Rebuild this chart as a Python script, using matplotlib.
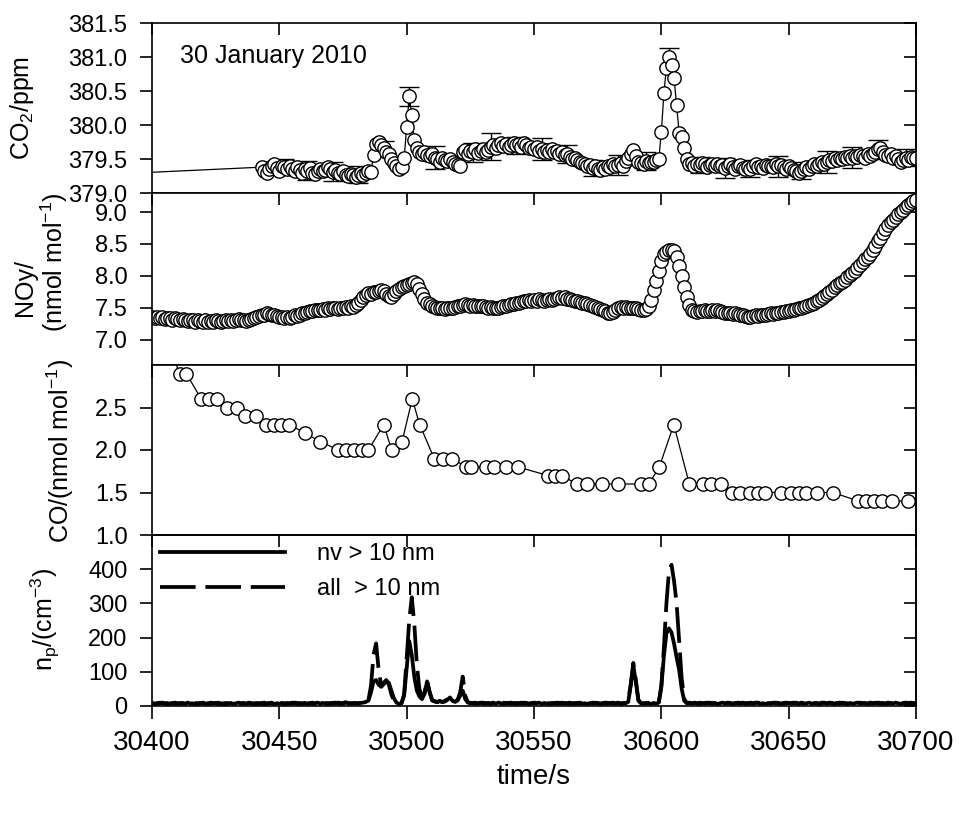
import numpy as np
import matplotlib
matplotlib.use('Agg')
import matplotlib.pyplot as plt
import matplotlib.ticker as ticker

plt.rcParams['font.family'] = ['Liberation Sans', 'DejaVu Sans']
plt.rcParams['mathtext.fontset'] = 'custom'
plt.rcParams['mathtext.rm'] = 'Liberation Sans'
plt.rcParams['mathtext.it'] = 'Liberation Sans:italic'
plt.rcParams['mathtext.default'] = 'regular'

# ---- data ----
time_ticks = [30400, 30450, 30500, 30550, 30600, 30650, 30700]

# CO2 (ppm), 1 s steps from 30443 s; one earlier sample lies left of the frame
co2_lead_t = [30380]
co2_lead = [379.27]
co2_start = 30443
co2 = [
    379.38, 379.33, 379.30, 379.36, 379.40, 379.42, 379.37, 379.33, 379.40, 379.38,
    379.36, 379.40, 379.35, 379.32, 379.38, 379.34, 379.30, 379.35, 379.33, 379.37,
    379.30, 379.28, 379.33, 379.36, 379.32, 379.34, 379.38, 379.35, 379.31, 379.34,
    379.30, 379.28, 379.32, 379.27, 379.25, 379.28, 379.26, 379.24, 379.27, 379.29,
    379.26, 379.30, 379.33, 379.31, 379.56, 379.72, 379.75, 379.70, 379.66, 379.60,
    379.58, 379.50, 379.44, 379.40, 379.36, 379.38, 379.51, 379.97, 380.42, 380.15,
    379.78, 379.66, 379.61, 379.58, 379.60, 379.56, 379.55, 379.57, 379.52, 379.50,
    379.46, 379.52, 379.49, 379.47, 379.50, 379.45, 379.43, 379.41, 379.39, 379.61,
    379.63, 379.58, 379.62, 379.60, 379.64, 379.59, 379.62, 379.65, 379.60, 379.63,
    379.68, 379.71, 379.66, 379.70, 379.73, 379.69, 379.72, 379.68, 379.71, 379.74,
    379.70, 379.72, 379.68, 379.73, 379.70, 379.66, 379.68, 379.64, 379.67, 379.62,
    379.65, 379.60, 379.63, 379.61, 379.64, 379.60, 379.62, 379.58, 379.60, 379.56,
    379.57, 379.53, 379.50, 379.52, 379.48, 379.46, 379.44, 379.42, 379.39, 379.41,
    379.37, 379.40, 379.35, 379.34, 379.38, 379.36, 379.40, 379.38, 379.42, 379.40,
    379.41, 379.44, 379.40, 379.47, 379.52, 379.58, 379.63, 379.55, 379.46, 379.44,
    379.42, 379.47, 379.44, 379.46, 379.45, 379.48, 379.50, 379.89, 380.47, 380.84,
    381.00, 380.88, 380.69, 380.29, 379.88, 379.83, 379.66, 379.50, 379.42, 379.44,
    379.40, 379.43, 379.41, 379.44, 379.42, 379.38, 379.41, 379.43, 379.40, 379.42,
    379.39, 379.41, 379.37, 379.40, 379.42, 379.38, 379.36, 379.39, 379.41, 379.37,
    379.35, 379.38, 379.36, 379.39, 379.42, 379.38, 379.40, 379.37, 379.41, 379.39,
    379.40, 379.38, 379.42, 379.39, 379.41, 379.38, 379.36, 379.40, 379.37, 379.34,
    379.32, 379.30, 379.33, 379.35, 379.38, 379.36, 379.40, 379.42, 379.39, 379.43,
    379.45, 379.42, 379.46, 379.49, 379.47, 379.51, 379.48, 379.52, 379.50, 379.53,
    379.51, 379.54, 379.52, 379.55, 379.53, 379.56, 379.54, 379.52, 379.57, 379.55,
    379.58, 379.60, 379.64, 379.66, 379.60, 379.56, 379.54, 379.58, 379.52, 379.55,
    379.50, 379.46, 379.48, 379.52, 379.49, 379.53, 379.51, 379.52,
]
co2_err_t = [30452, 30461, 30471, 30481, 30491, 30501, 30511, 30526, 30533, 30543,
             30553, 30563, 30573, 30583, 30594, 30603, 30615, 30625, 30635, 30646,
             30655, 30665, 30675, 30685, 30696]
co2_err = [0.12, 0.14, 0.14, 0.13, 0.10, 0.14, 0.17, 0.14, 0.20, 0.12,
           0.16, 0.13, 0.12, 0.15, 0.13, 0.13, 0.12, 0.15, 0.12, 0.15,
           0.13, 0.16, 0.15, 0.14, 0.13]

# NOy (nmol/mol), 1 s steps from 30400 s
noy_start = 30400
noy = [
    7.35, 7.34, 7.36, 7.33, 7.35, 7.32, 7.34, 7.33, 7.31, 7.33,
    7.32, 7.30, 7.32, 7.31, 7.29, 7.31, 7.30, 7.28, 7.30, 7.29,
    7.28, 7.30, 7.27, 7.29, 7.28, 7.30, 7.29, 7.27, 7.29, 7.30,
    7.29, 7.31, 7.29, 7.30, 7.32, 7.30, 7.31, 7.29, 7.30, 7.32,
    7.33, 7.35, 7.37, 7.38, 7.39, 7.41, 7.40, 7.38, 7.39, 7.37,
    7.36, 7.35, 7.34, 7.35, 7.34, 7.36, 7.38, 7.37, 7.39, 7.41,
    7.42, 7.43, 7.45, 7.44, 7.46, 7.47, 7.46, 7.48, 7.47, 7.49,
    7.48, 7.50, 7.49, 7.48, 7.50, 7.49, 7.51, 7.50, 7.52, 7.51,
    7.54, 7.57, 7.62, 7.66, 7.70, 7.73, 7.72, 7.74, 7.75, 7.76,
    7.77, 7.76, 7.72, 7.68, 7.67, 7.72, 7.76, 7.79, 7.82, 7.84,
    7.85, 7.87, 7.89, 7.90, 7.87, 7.80, 7.72, 7.64, 7.58, 7.55,
    7.52, 7.51, 7.50, 7.49, 7.50, 7.48, 7.49, 7.49, 7.50, 7.51,
    7.52, 7.53, 7.54, 7.55, 7.54, 7.53, 7.54, 7.52, 7.53, 7.52,
    7.52, 7.51, 7.50, 7.51, 7.49, 7.50, 7.49, 7.51, 7.52, 7.53,
    7.54, 7.55, 7.56, 7.57, 7.58, 7.59, 7.60, 7.61, 7.62, 7.61,
    7.62, 7.61, 7.63, 7.62, 7.61, 7.62, 7.63, 7.62, 7.64, 7.65,
    7.66, 7.65, 7.66, 7.64, 7.63, 7.62, 7.61, 7.60, 7.59, 7.58,
    7.57, 7.55, 7.54, 7.52, 7.51, 7.50, 7.48, 7.46, 7.44, 7.42,
    7.41, 7.43, 7.46, 7.49, 7.51, 7.50, 7.51, 7.49, 7.50, 7.49,
    7.50, 7.48, 7.47, 7.46, 7.48, 7.53, 7.62, 7.78, 7.92, 8.08,
    8.24, 8.34, 8.38, 8.40, 8.40, 8.39, 8.30, 8.16, 8.00, 7.82,
    7.66, 7.54, 7.47, 7.44, 7.43, 7.45, 7.44, 7.46, 7.45, 7.44,
    7.46, 7.45, 7.46, 7.44, 7.43, 7.42, 7.41, 7.42, 7.40, 7.41,
    7.40, 7.38, 7.39, 7.37, 7.36, 7.36, 7.37, 7.38, 7.37, 7.39,
    7.38, 7.39, 7.40, 7.41, 7.40, 7.42, 7.41, 7.43, 7.43, 7.44,
    7.45, 7.46, 7.47, 7.48, 7.49, 7.50, 7.51, 7.52, 7.54, 7.56,
    7.58, 7.60, 7.62, 7.65, 7.68, 7.71, 7.74, 7.78, 7.82, 7.85,
    7.88, 7.91, 7.94, 7.98, 8.01, 8.04, 8.08, 8.12, 8.17, 8.21,
    8.26, 8.30, 8.35, 8.41, 8.47, 8.54, 8.60, 8.67, 8.74, 8.79,
    8.84, 8.88, 8.92, 8.97, 9.00, 9.04, 9.08, 9.11, 9.14, 9.17,
    9.19,
]

# CO (nmol/mol)
co_t = [30408, 30411, 30413.5, 30419.3, 30422.4, 30425.4, 30429.5, 30433.5,
        30436.6, 30440.7, 30444.7, 30447.8, 30450.8, 30453.9, 30460, 30466,
        30473.2, 30476.2, 30479.3, 30482.3, 30485, 30491, 30494.1, 30498.2,
        30502.2, 30505.1, 30510.8, 30514.4, 30517.9, 30523.3, 30525.4, 30531.1,
        30534.1, 30539.2, 30543.7, 30555.5, 30558.1, 30561, 30566.7, 30570.7,
        30576.8, 30582.9, 30592, 30595.1, 30599.2, 30604.9, 30611, 30616.5,
        30619.5, 30623.6, 30627.6, 30630.7, 30634.8, 30637.8, 30640.9, 30647,
        30651, 30654, 30657, 30661.2, 30667.3, 30677.4, 30680.5, 30683.5,
        30686.6, 30690.7, 30696.7]
co = [3.1, 2.9, 2.9, 2.6, 2.6, 2.6, 2.5, 2.5,
      2.4, 2.4, 2.3, 2.3, 2.3, 2.3, 2.2, 2.1,
      2.0, 2.0, 2.0, 2.0, 2.0, 2.3, 2.0, 2.1,
      2.6, 2.3, 1.9, 1.9, 1.9, 1.8, 1.8, 1.8,
      1.8, 1.8, 1.8, 1.7, 1.7, 1.7, 1.6, 1.6,
      1.6, 1.6, 1.6, 1.6, 1.8, 2.3, 1.6, 1.6,
      1.6, 1.6, 1.5, 1.5, 1.5, 1.5, 1.5, 1.5,
      1.5, 1.5, 1.5, 1.5, 1.5, 1.4, 1.4, 1.4,
      1.4, 1.4, 1.4]

# particle number (cm^-3), 1 s steps from 30400 s
np_start = 30400
nv_10nm = [
    8, 6, 9, 7, 10, 8, 5, 7, 9, 6,
    7, 9, 8, 6, 10, 7, 8, 5, 7, 9,
    8, 6, 7, 10, 8, 9, 6, 7, 8, 5,
    7, 9, 6, 8, 10, 7, 8, 6, 9, 7,
    8, 6, 7, 9, 5, 8, 7, 10, 6, 8,
    7, 9, 8, 6, 7, 10, 8, 7, 9, 6,
    8, 7, 9, 6, 8, 10, 7, 9, 8, 6,
    7, 9, 10, 8, 6, 9, 11, 8, 7, 9,
    8, 7, 9, 10, 12, 16, 40, 72, 76, 62,
    56, 64, 72, 68, 45, 22, 10, 6, 8, 30,
    110, 190, 150, 85, 45, 28, 20, 35, 72, 40,
    18, 14, 12, 15, 11, 13, 18, 25, 15, 12,
    16, 30, 45, 20, 10, 8, 9, 7, 8, 10,
    7, 9, 8, 6, 9, 7, 10, 8, 6, 9,
    8, 7, 9, 6, 8, 10, 7, 8, 6, 9,
    7, 8, 10, 6, 9, 7, 8, 6, 9, 7,
    8, 10, 7, 9, 6, 8, 7, 9, 10, 7,
    8, 6, 9, 7, 10, 8, 6, 9, 7, 8,
    9, 7, 8, 10, 6, 9, 8, 12, 60, 118,
    70, 15, 8, 7, 9, 8, 6, 9, 7, 10,
    55, 145, 212, 227, 215, 182, 142, 105, 50, 15,
    8, 9, 7, 10, 8, 6, 9, 7, 8, 10,
    7, 9, 6, 8, 10, 7, 9, 8, 6, 9,
    8, 7, 10, 6, 9, 8, 7, 9, 10, 7,
    8, 6, 9, 7, 10, 8, 9, 6, 8, 7,
    9, 7, 8, 10, 6, 9, 7, 8, 10, 7,
    8, 9, 6, 8, 10, 7, 9, 8, 6, 9,
    7, 10, 8, 6, 9, 7, 8, 10, 7, 9,
    8, 6, 9, 7, 10, 8, 7, 9, 6, 8,
    9, 7, 10, 8, 6, 9, 7, 8, 10, 7,
    8,
]
all_10nm = [
    9, 7, 6, 10, 8, 7, 9, 6, 8, 10,
    8, 6, 9, 7, 8, 10, 6, 9, 8, 7,
    10, 7, 8, 6, 9, 8, 10, 7, 6, 9,
    8, 10, 7, 9, 6, 8, 9, 7, 10, 8,
    6, 9, 8, 7, 10, 6, 9, 8, 7, 9,
    10, 7, 6, 9, 8, 7, 10, 9, 6, 8,
    9, 6, 8, 10, 7, 8, 9, 6, 10, 8,
    9, 7, 8, 10, 9, 7, 10, 9, 8, 7,
    9, 8, 10, 9, 11, 18, 60, 150, 183, 105,
    60, 68, 76, 62, 34, 14, 9, 7, 9, 35,
    140, 250, 318, 240, 120, 50, 28, 38, 75, 42,
    16, 13, 11, 14, 12, 15, 20, 27, 16, 13,
    18, 40, 86, 30, 12, 9, 8, 10, 7, 9,
    10, 7, 9, 8, 10, 6, 9, 7, 10, 8,
    9, 10, 7, 9, 8, 7, 10, 9, 7, 8,
    10, 9, 7, 8, 10, 8, 7, 9, 8, 10,
    9, 7, 9, 8, 10, 7, 9, 8, 7, 10,
    9, 8, 7, 10, 8, 9, 7, 8, 10, 9,
    8, 10, 7, 9, 8, 7, 10, 14, 65, 126,
    75, 18, 9, 8, 7, 10, 8, 7, 9, 12,
    60, 170, 300, 395, 413, 365, 300, 190, 80, 20,
    9, 10, 8, 9, 7, 10, 8, 9, 10, 8,
    9, 8, 10, 7, 9, 8, 10, 9, 7, 8,
    10, 9, 8, 9, 7, 10, 8, 10, 9, 8,
    9, 7, 10, 8, 9, 10, 8, 7, 9, 10,
    8, 9, 10, 8, 7, 10, 9, 8, 9, 10,
    9, 8, 7, 10, 9, 8, 10, 9, 7, 8,
    10, 8, 9, 7, 10, 9, 8, 9, 10, 8,
    9, 7, 10, 9, 8, 10, 9, 7, 8, 10,
    8, 10, 9, 7, 8, 9, 10, 9, 8, 9,
    9,
]

# ---- figure ----
W, H = 960, 816
fig = plt.figure(figsize=(W / 100, H / 100), dpi=100)

left = 152 / W
width = (916 - 152) / W
def frame(top_px, bot_px):
    return [left, 1 - bot_px / H, width, (bot_px - top_px) / H]

ax1 = fig.add_axes(frame(23, 193))
ax2 = fig.add_axes(frame(193, 365))
ax3 = fig.add_axes(frame(365, 535))
ax4 = fig.add_axes(frame(535, 706))

TL = 8.6
LW = 1.2

def style(ax, yticks, ylim, fmt):
    ax.set_xlim(30400, 30700)
    ax.set_ylim(*ylim)
    ax.set_xticks(time_ticks)
    ax.set_yticks(yticks)
    ax.yaxis.set_major_formatter(ticker.FormatStrFormatter(fmt))
    ax.tick_params(axis='y', direction='out', length=TL, width=LW, pad=9,
                   labelsize=17, right=False)
    for s in ax.spines.values():
        s.set_linewidth(LW)
    sec = ax.secondary_yaxis('right')
    sec.set_yticks(yticks)
    sec.tick_params(direction='in', length=TL, width=LW, labelright=False)
    sec.spines['right'].set_linewidth(LW)

style(ax1, np.arange(379.0, 381.51, 0.5), (379.0, 381.5), '%.1f')
style(ax2, [7.0, 7.5, 8.0, 8.5, 9.0], (6.6, 9.3), '%.1f')
style(ax3, [1.0, 1.5, 2.0, 2.5], (1.0, 3.0), '%.1f')
style(ax4, [0, 100, 200, 300, 400], (0, 500), '%d')

for ax in (ax1, ax2, ax3):
    ax.tick_params(axis='x', direction='in', length=TL, width=LW,
                   top=True, bottom=False, labelbottom=False)
ax4.tick_params(axis='x', direction='out', length=9.5, width=LW,
                top=False, bottom=True, labelsize=20, pad=8)
top4 = ax4.secondary_xaxis('top')
top4.set_xticks(time_ticks)
top4.tick_params(direction='in', length=TL, width=LW, labeltop=False)
top4.spines['top'].set_linewidth(LW)

mk = dict(color='k', lw=0.9, marker='o', ms=9.6, mfc='white', mec='k', mew=1.0)

# CO2
co2_t = np.concatenate([co2_lead_t, co2_start + np.arange(len(co2))])
co2_v = np.concatenate([co2_lead, co2])
err_v = [co2[t - co2_start] for t in co2_err_t]
ax1.errorbar(co2_err_t, err_v, yerr=co2_err, fmt='none', ecolor='k',
             elinewidth=1.0, capsize=7, capthick=1.0, zorder=1)
ax1.plot(co2_t, co2_v, zorder=2, **mk)

# NOy
noy_t = noy_start + np.arange(len(noy))
ax2.plot(noy_t, noy, **mk)

# CO
ax3.plot(co_t, co, **mk)

# particles
np_t = np_start + np.arange(len(nv_10nm))
ax4.plot(np_t, nv_10nm, color='k', lw=2.7, label='nv > 10 nm')
ax4.plot(np_t, all_10nm, color='k', lw=2.7, dashes=(9.5, 2.6),
         label='all  > 10 nm')
ax4.legend(loc='upper left', frameon=False, fontsize=17, handlelength=5.3,
           handletextpad=1.35, labelspacing=0.55, borderaxespad=0.15,
           borderpad=0.2)

# labels
fs = 18
fig.text(180 / W, 1 - 56 / H, '30 January 2010', ha='left', va='center',
         fontsize=fs)
fig.text(22 / W, 1 - 108 / H, 'CO$_2$/ppm', rotation=90, ha='center',
         va='center', fontsize=fs)
fig.text(25 / W, 1 - 287 / H, 'NOy/', rotation=90, ha='center',
         va='center', fontsize=fs)
fig.text(54 / W, 1 - 262 / H, '(nmol mol$^{-1}$)', rotation=90,
         ha='center', va='center', fontsize=fs)
fig.text(60 / W, 1 - 451 / H, 'CO/(nmol mol$^{-1}$)', rotation=90,
         ha='center', va='center', fontsize=fs)
fig.text(45 / W, 1 - 620 / H, 'n$_p$/(cm$^{-3}$)', rotation=90,
         ha='center', va='center', fontsize=fs)
fig.text(534 / W, 1 - 777 / H, 'time/s', ha='center', va='center',
         fontsize=20)

fig.savefig('out.png', dpi=100)
